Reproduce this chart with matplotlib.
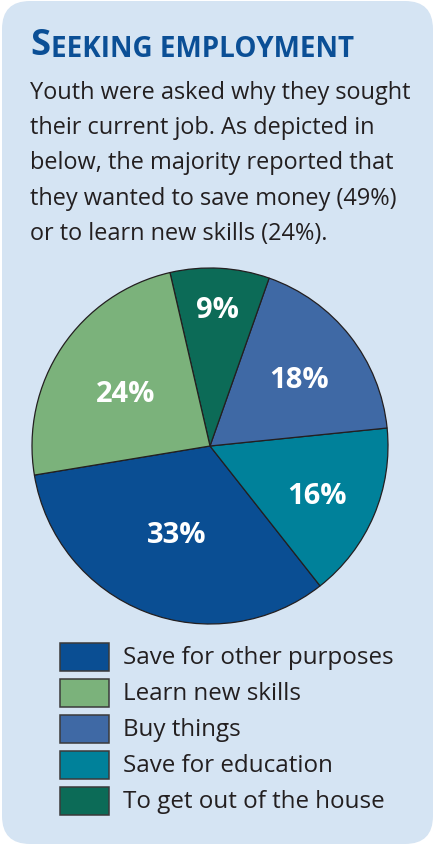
import matplotlib
matplotlib.use('Agg')
import numpy as np
import matplotlib.pyplot as plt
from matplotlib.patches import FancyBboxPatch, Rectangle

# data, in legend order
labels = ['Save for other purposes', 'Learn new skills', 'Buy things',
          'Save for education', 'To get out of the house']
values = [33, 24, 18, 16, 9]
colors = ['#0a4e93', '#7bb27b', '#3f69a5', '#00819a', '#0c6b57']
# order the slices go round the pie (counter clockwise)
draw_order = [0, 3, 2, 4, 1]
label_dist = [0.51, 0.57, 0.64, 0.65, 0.79]

title_first = 'S'
title_rest = 'EEKING EMPLOYMENT'
body = ['Youth were asked why they sought',
        'their current job. As depicted in',
        'below, the majority reported that',
        'they wanted to save money (49%)',
        'or to learn new skills (24%).']

FONT = 'Open Sans'
INK = '#231f20'
BG = '#d5e4f3'
TITLE_C = '#0b4f96'

W, H = 435, 847
fig = plt.figure(figsize=(W / 100, H / 100), dpi=100)
fig.patch.set_facecolor('white')

# full figure axes in pixel coords
ax = fig.add_axes([0, 0, 1, 1])
ax.set_xlim(0, W)
ax.set_ylim(H, 0)
ax.axis('off')

panel = FancyBboxPatch((2 + 28, 1 + 28), 431 - 56, 843 - 56,
                       boxstyle='round,pad=28', fc=BG, ec='none')
ax.add_patch(panel)

# title in small caps
t1 = ax.text(30, 55, title_first, fontsize=26.2, fontweight='bold',
             family=FONT, color=TITLE_C, va='baseline')
ax.annotate(title_rest, xy=(1, 0), xycoords=t1, xytext=(0.5, 0),
            textcoords='offset points', fontsize=20, fontweight='bold',
            family=FONT, color=TITLE_C, va='bottom')

for i, line in enumerate(body):
    ax.text(30, 99 + 35.2 * i, line, fontsize=16.9, family=FONT,
            color=INK, va='baseline')

# pie
cx, cy, r = 210, 446, 178
m = 1.02
pa = fig.add_axes([(cx - r * m) / W, (H - cy - r * m) / H,
                   2 * r * m / W, 2 * r * m / H])

vals = [values[k] for k in draw_order]
cols = [colors[k] for k in draw_order]
wedges, _ = pa.pie(vals, colors=cols, startangle=189.4, radius=1,
                   wedgeprops=dict(edgecolor=INK, linewidth=0.9))
pa.set_xlim(-m, m)
pa.set_ylim(-m, m)
pa.axis('off')
for w, k in zip(wedges, draw_order):
    mid = np.deg2rad((w.theta1 + w.theta2) / 2)
    d = label_dist[k]
    pa.annotate(f'{values[k]}%', xy=(d * np.cos(mid), d * np.sin(mid)),
                xytext=(0, -3.6), textcoords='offset points',
                ha='center', va='center', color='white', fontsize=21,
                fontweight='bold', family=FONT)

# legend
for i, (lab, col) in enumerate(zip(labels, colors)):
    y0 = 643 + 36 * i
    ax.add_patch(Rectangle((60, y0), 49, 28, fc=col, ec='#3a3a3a', lw=1.1))
    ax.text(123, y0 + 21, lab, fontsize=17.4, family=FONT, color=INK,
            va='baseline')

fig.savefig('out.png', dpi=100)
